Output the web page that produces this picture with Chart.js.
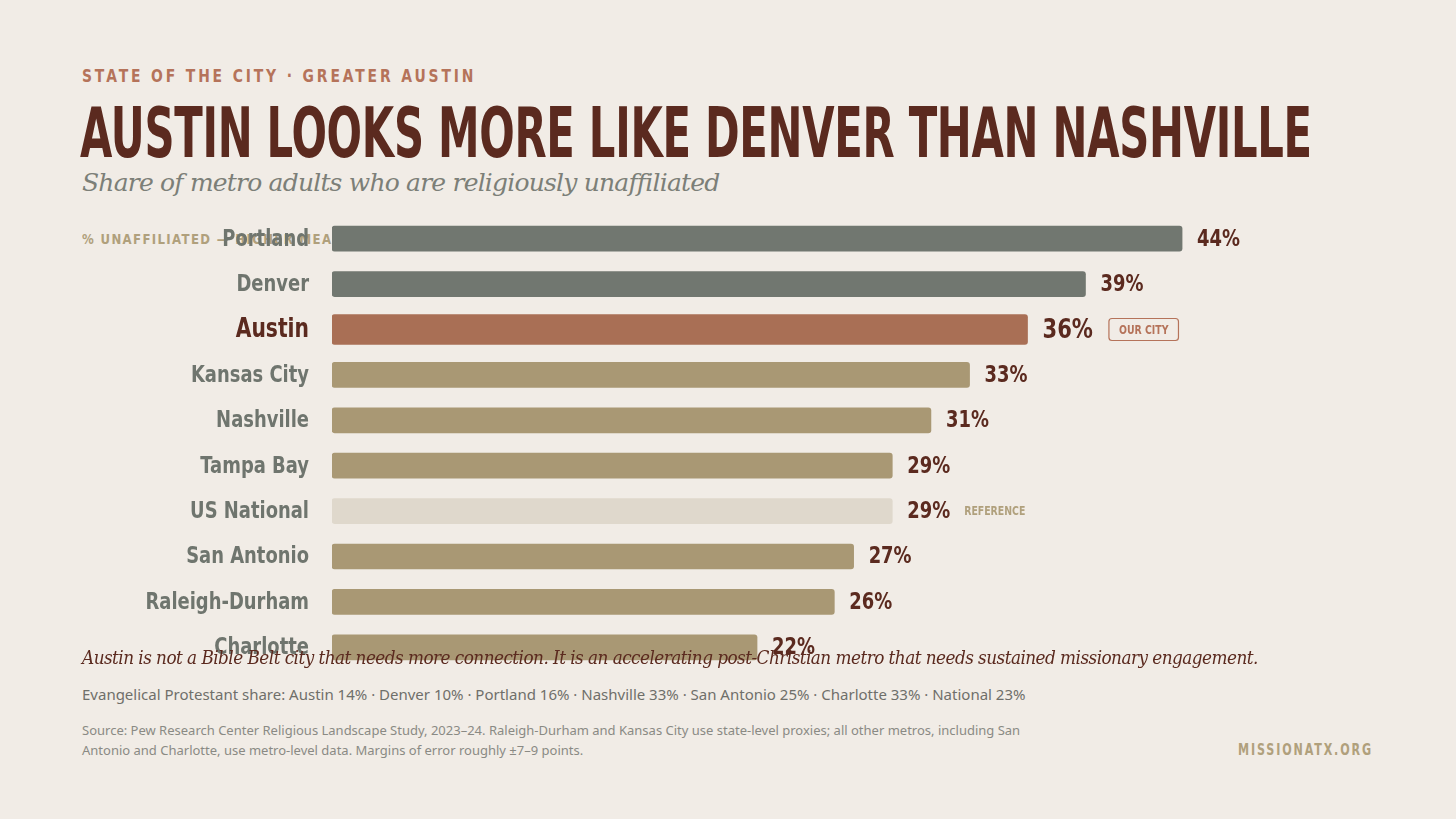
<!DOCTYPE html>
<html>
<head>
<meta charset="utf-8">
<script src="https://cdn.jsdelivr.net/npm/chart.js@4"></script>
<style>
  body { margin: 0; width: 1456px; height: 819px; background: #f1ece6; position: relative; overflow: hidden; font-family: "DejaVu Sans", sans-serif; }
  .abs { position: absolute; white-space: nowrap; transform-origin: 0 0; }
  #eyebrow { left: 82px; top: 66px; font-size: 17px; letter-spacing: 3.5px; color: #b5735a; font-weight: bold; }
  #title { left: 80px; top: 92px; font-size: 70px; font-weight: bold; color: #5b2a1f; letter-spacing: -0.5px; }
  #subtitle { left: 82px; top: 168px; font-family: "DejaVu Serif", serif; font-style: italic; font-size: 25px; color: #7c7f78; letter-spacing: -0.8px; }
  #axcap { left: 82px; top: 231px; font-size: 14px; font-weight: bold; letter-spacing: 1.6px; color: #b0a07c; }
  #quote { left: 82px; top: 647px; font-family: "DejaVu Serif", serif; font-style: italic; font-size: 18.5px; color: #5b2a1f; letter-spacing: -0.6px; }
  #evang { left: 82px; top: 684px; font-family: "Noto Sans", sans-serif; font-size: 15px; color: #6f6f6a; }
  #source { left: 82px; top: 720px; font-family: "Noto Sans", sans-serif; font-size: 13px; line-height: 20px; color: #8a8a84; }
  #site { left: 1238px; top: 741px; font-size: 15px; font-weight: bold; letter-spacing: 2.5px; color: #b0a07c; }
  #wrap { position: absolute; left: 0; top: 216px; width: 1298px; height: 454px; }
</style>
</head>
<body>
<div class="abs" id="eyebrow">STATE OF THE CITY · GREATER AUSTIN</div>
<div class="abs" id="title">AUSTIN LOOKS MORE LIKE DENVER THAN NASHVILLE</div>
<div class="abs" id="subtitle">Share of metro adults who are religiously unaffiliated</div>
<div class="abs" id="axcap">% UNAFFILIATED — HIGHER MEANS MORE SECULAR</div>
<div id="wrap"><canvas id="chart"></canvas></div>
<div class="abs" id="quote">Austin is not a Bible Belt city that needs more connection. It is an accelerating post-Christian metro that needs sustained missionary engagement.</div>
<div class="abs" id="evang">Evangelical Protestant share: Austin 14% · Denver 10% · Portland 16% · Nashville 33% · San Antonio 25% · Charlotte 33% · National 23%</div>
<div class="abs" id="source">Source: Pew Research Center Religious Landscape Study, 2023–24. Raleigh-Durham and Kansas City use state-level proxies; all other metros, including San<br>Antonio and Charlotte, use metro-level data. Margins of error roughly ±7–9 points.</div>
<div class="abs" id="site">MISSIONATX.ORG</div>
<script>
const metros = ['Portland', 'Denver', 'Austin', 'Kansas City', 'Nashville', 'Tampa Bay', 'US National', 'San Antonio', 'Raleigh-Durham', 'Charlotte'];
const unaffiliated = [44, 39, 36, 33, 31, 29, 29, 27, 26, 22];
const barColors = ['#717770', '#717770', '#a96f55', '#a99874', '#a99874', '#a99874', '#dfd8cc', '#a99874', '#a99874', '#a99874'];
const tags = { 'Austin': 'OUR CITY', 'US National': 'REFERENCE' };

// squeeze condensed-style text to the widths seen in the reference
function fitWidth(id, w) {
  const el = document.getElementById(id);
  el.style.transform = 'scaleX(' + (w / el.offsetWidth) + ')';
}
fitWidth('title', 1232);
fitWidth('eyebrow', 394);
fitWidth('axcap', 396);
fitWidth('site', 135);
fitWidth('quote', 1176);

const FONT = '"DejaVu Sans", sans-serif';
const SQ = 0.78; // horizontal squeeze for chart text
const otherData = unaffiliated.map((v, i) => metros[i] === 'Austin' ? null : v);
const austinData = unaffiliated.map((v, i) => metros[i] === 'Austin' ? v : null);

function sqText(ctx, txt, x, y, align) {
  ctx.save();
  ctx.translate(x, y);
  ctx.scale(SQ, 1);
  ctx.textAlign = align;
  ctx.fillText(txt, 0, 0);
  ctx.restore();
  return ctx.measureText(txt).width * SQ;
}

const labelPlugin = {
  id: 'valueLabels',
  afterDraw(chart) {
    const ctx = chart.ctx;
    const x = chart.scales.x, y = chart.scales.y;
    ctx.save();
    ctx.textBaseline = 'middle';
    metros.forEach((m, i) => {
      const isAustin = m === 'Austin';
      const yc = y.getPixelForValue(i);
      // category label
      ctx.fillStyle = isAustin ? '#5b2a1f' : '#6f756e';
      ctx.font = 'bold ' + (isAustin ? 26 : 23) + 'px ' + FONT;
      sqText(ctx, m, 309, yc + 1, 'right');
      // value label
      const xe = x.getPixelForValue(unaffiliated[i]);
      ctx.fillStyle = '#5b2a1f';
      ctx.font = 'bold ' + (isAustin ? 27 : 23) + 'px ' + FONT;
      const tw = sqText(ctx, unaffiliated[i] + '%', xe + 15, yc + 1, 'left');
      if (tags[m]) {
        const tx = xe + 15 + tw + 16;
        if (isAustin) {
          ctx.font = 'bold 12px ' + FONT;
          const t = tags[m];
          const w = ctx.measureText(t).width * SQ + 20;
          ctx.strokeStyle = '#b5735a';
          ctx.lineWidth = 1.2;
          ctx.beginPath();
          ctx.roundRect(tx, yc - 11, w, 22, 3);
          ctx.stroke();
          ctx.fillStyle = '#b5735a';
          sqText(ctx, t, tx + 10, yc + 1, 'left');
        } else {
          ctx.font = 'bold 12px ' + FONT;
          ctx.fillStyle = '#b0a07c';
          sqText(ctx, tags[m], tx - 2, yc + 1, 'left');
        }
      }
    });
    ctx.restore();
  }
};

new Chart(document.getElementById('chart'), {
  type: 'bar',
  data: {
    labels: metros,
    datasets: [
      { data: otherData, backgroundColor: barColors, barThickness: 25, borderRadius: 3, borderSkipped: false, grouped: false, skipNull: true },
      { data: austinData, backgroundColor: barColors, barThickness: 30, borderRadius: 3, borderSkipped: false, grouped: false, skipNull: true }
    ]
  },
  options: {
    indexAxis: 'y',
    responsive: true,
    maintainAspectRatio: false,
    animation: false,
    layout: { padding: 0 },
    plugins: { legend: { display: false }, tooltip: { enabled: false } },
    scales: {
      x: { display: false, min: 0, max: 50 },
      y: {
        grid: { display: false },
        border: { display: false },
        afterFit(s) { s.width = 332; },
        ticks: { display: false, autoSkip: false }
      }
    }
  },
  plugins: [labelPlugin]
});
</script>
</body>
</html>
